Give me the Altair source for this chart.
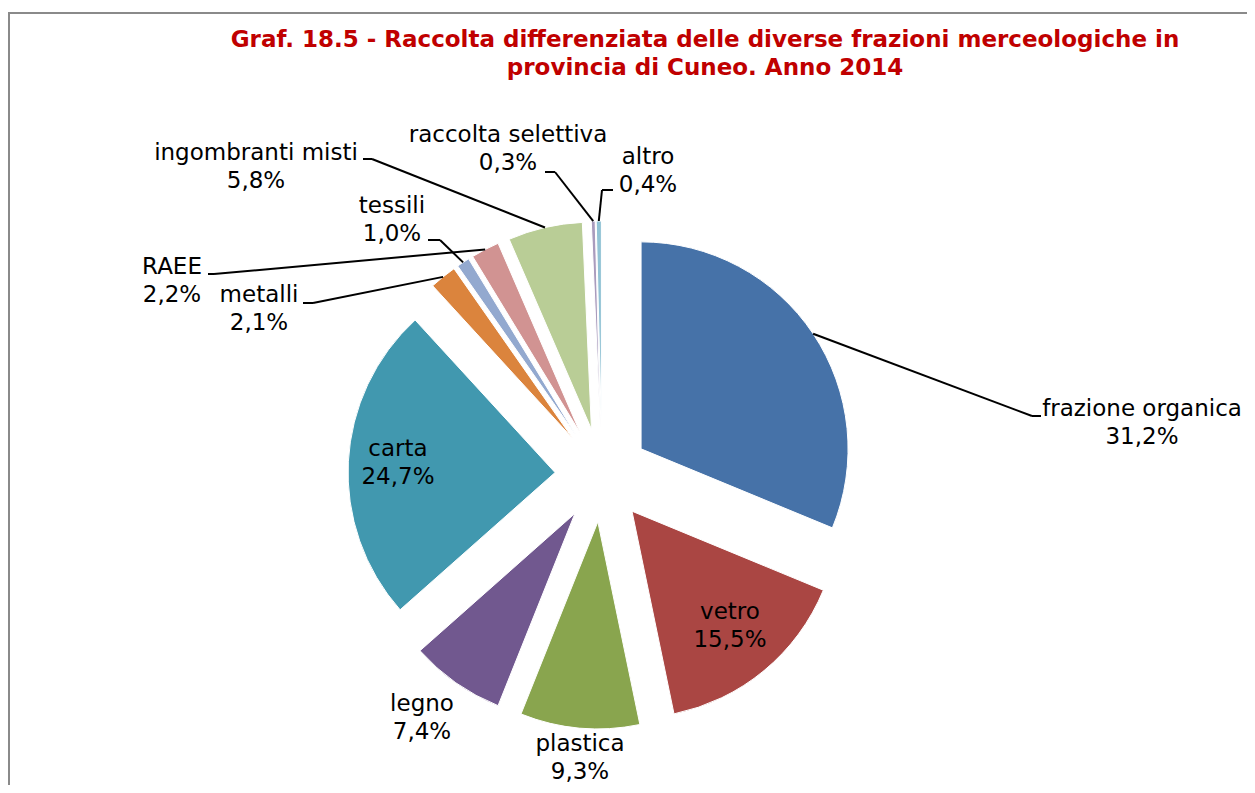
import altair as alt
import pandas as pd

# ---------------- data ----------------
categories = ["frazione organica", "vetro", "plastica", "legno", "carta", "metalli",
              "tessili", "RAEE", "ingombranti misti", "raccolta selettiva", "altro"]
shares = [31.2, 15.5, 9.3, 7.4, 24.7, 2.1, 1.0, 2.2, 5.8, 0.3, 0.4]
colors = ["#4672A8", "#AA4643", "#89A54E", "#71588F", "#4198AF", "#DB843D",
          "#93A9CF", "#D19392", "#B9CD96", "#A99BBD", "#92C3D5"]
title_lines = ["Graf. 18.5 - Raccolta differenziata delle diverse frazioni merceologiche in",
               "provincia di Cuneo. Anno 2014"]

# ---------------- layout (page pixels) ----------------
MARGIN = 8
CX, CY = 602 - MARGIN, 475 - MARGIN   # pie centre
EXPLODE = 47                          # radial offset of every slice
R = 207                               # pie radius
label_x = [1142, 730, 580, 422, 398, 259, 392, 172, 256, 508, 648]
label_y = [409, 612, 744, 704, 449, 295, 206, 267, 153, 135, 157]   # first line centre
leader_start = [(1041, 416), None, None, None, None, (303, 303), (428, 240),
                (208, 274), (363, 159), (545, 172), (613, 190)]
leader_elbow = [(1032, 416), None, None, None, None, (313, 303), (440, 240),
                (214, 274), (372, 159), (555, 172), (602, 190)]

rows = []
for i, (n, v) in enumerate(zip(categories, shares)):
    s = leader_start[i]
    e = leader_elbow[i]
    rows.append({
        "idx": i, "name": n, "share": v,
        "label": n + "\n" + f"{v:.1f}".replace(".", ",") + "%",
        "lx": label_x[i] - MARGIN, "ly": label_y[i] - MARGIN,
        "has_leader": s is not None,
        "sx": (s[0] - MARGIN) if s else 0, "sy": (s[1] - MARGIN) if s else 0,
        "bx": (e[0] - MARGIN) if e else 0, "by": (e[1] - MARGIN) if e else 0,
    })
df = pd.DataFrame(rows)

W, H = 1239, 777
FONT = "DejaVu Sans"

base = (
    alt.Chart(df)
    .transform_window(cum="sum(share)", sort=[alt.SortField("idx")], frame=[None, 0])
    .transform_joinaggregate(total="sum(share)")
    .transform_calculate(
        t0="(datum.cum - datum.share) / datum.total * 2 * PI",
        t1="datum.cum / datum.total * 2 * PI",
    )
    .transform_calculate(mid="(datum.t0 + datum.t1) / 2")
    .transform_calculate(
        ax=f"{CX} + {EXPLODE} * sin(datum.mid)",
        ay=f"{CY} - {EXPLODE} * cos(datum.mid)",
    )
    .transform_calculate(
        px=f"datum.ax + {R} * sin(datum.mid)",
        py=f"datum.ay - {R} * cos(datum.mid)",
    )
)

arcs = base.mark_arc(outerRadius=R, stroke="white", strokeWidth=1).encode(
    x=alt.X("ax:Q", scale=None, axis=None),
    y=alt.Y("ay:Q", scale=None, axis=None),
    theta=alt.Theta("t0:Q", scale=None, stack=None),
    theta2="t1:Q",
    color=alt.Color("name:N", scale=alt.Scale(domain=categories, range=colors), legend=None),
)

leaders = base.transform_filter("datum.has_leader")
stub = leaders.mark_rule(color="black", strokeWidth=2).encode(
    x=alt.X("sx:Q", scale=None, axis=None), y=alt.Y("sy:Q", scale=None, axis=None),
    x2="bx:Q", y2="by:Q",
)
diag = leaders.mark_rule(color="black", strokeWidth=2).encode(
    x=alt.X("bx:Q", scale=None, axis=None), y=alt.Y("by:Q", scale=None, axis=None),
    x2="px:Q", y2="py:Q",
)

labels = base.mark_text(font=FONT, fontSize=23, lineBreak="\n", lineHeight=28,
                        align="center", baseline="middle", color="black").encode(
    x=alt.X("lx:Q", scale=None, axis=None),
    y=alt.Y("ly:Q", scale=None, axis=None),
    text="label:N",
)

title = alt.Chart(pd.DataFrame({"t": ["\n".join(title_lines)]})).mark_text(
    font=FONT, fontSize=23, fontWeight="bold", color="#C00000", lineBreak="\n",
    lineHeight=28, align="center", baseline="middle",
).encode(text="t:N", x=alt.value(705 - MARGIN), y=alt.value(40 - MARGIN))

frame_v = alt.Chart(pd.DataFrame({"a": [0]})).mark_rule(color="#8A8A8A", strokeWidth=2).encode(
    x=alt.value(1), y=alt.value(5), y2=alt.value(H + 20))
frame_h = alt.Chart(pd.DataFrame({"a": [0]})).mark_rule(color="#8A8A8A", strokeWidth=2).encode(
    x=alt.value(0), x2=alt.value(W + 20), y=alt.value(5))

chart = alt.layer(frame_v, frame_h, arcs, stub, diag, labels, title).properties(
    width=W, height=H, padding=0, autosize=alt.AutoSizeParams(type="none"),
    background="white",
).configure_view(stroke=None)

chart.save("out.html", embed_options={"renderer": "svg", "actions": False})
